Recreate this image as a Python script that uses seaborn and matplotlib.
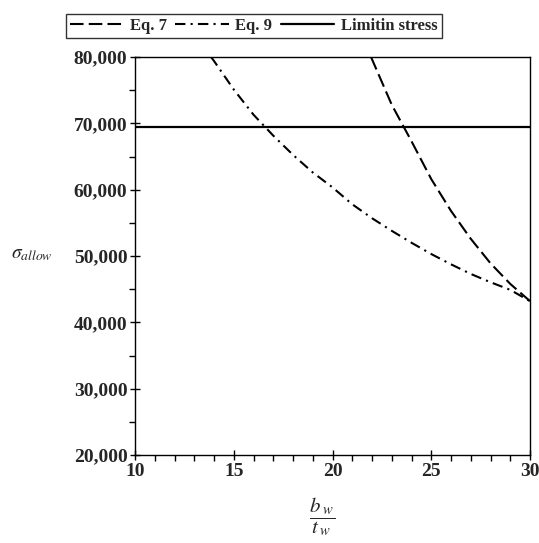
import numpy as np
import pandas as pd
import seaborn as sns
import matplotlib.pyplot as plt
from matplotlib.ticker import MultipleLocator, FuncFormatter

# valores
x_eq7 = [21.95, 23, 24, 25, 26, 27, 28, 29, 30]
s_eq7 = [80000, 72800, 67300, 61600, 56800, 52600, 48900, 45800, 43200]

x_eq9 = [13.85, 14, 15, 16, 17, 18, 19, 20, 21, 22, 23, 24, 25, 26, 27, 28, 29, 30]
s_eq9 = [80000, 79400, 75100, 71300, 68150, 65250, 62600, 60350, 57800,
         55700, 53800, 52000, 50300, 48750, 47300, 46050, 44900, 43200]

x_lim = [10, 30]
s_lim = [69400, 69400]

df7 = pd.DataFrame({"bt": x_eq7, "s": s_eq7})
df9 = pd.DataFrame({"bt": x_eq9, "s": s_eq9})
dfl = pd.DataFrame({"bt": x_lim, "s": s_lim})

sns.set_theme(style="white")
plt.rcParams['font.family'] = ['Liberation Serif', 'DejaVu Serif']
plt.rcParams['mathtext.fontset'] = 'stix'

fig = plt.figure(figsize=(5.39, 5.43), dpi=100)
ax = fig.add_axes([0.2505, 0.162, 0.7328, 0.733])

sns.lineplot(data=df7, x="bt", y="s", ax=ax, color="black", lw=1.5,
             label="Eq. 7", linestyle=(0, (6.5, 2.5)))
sns.lineplot(data=df9, x="bt", y="s", ax=ax, color="black", lw=1.5,
             label="Eq. 9", linestyle=(0, (5, 2.5, 1, 2.5)))
sns.lineplot(data=dfl, x="bt", y="s", ax=ax, color="black", lw=1.6,
             label="Limitin stress")

ax.set_xlim(10, 30)
ax.set_ylim(20000, 80000)
ax.xaxis.set_major_locator(MultipleLocator(5))
ax.xaxis.set_minor_locator(MultipleLocator(1))
ax.yaxis.set_major_locator(MultipleLocator(10000))
ax.yaxis.set_minor_locator(MultipleLocator(5000))
ax.yaxis.set_major_formatter(FuncFormatter(lambda v, p: f"{int(v):,}"))

ax.tick_params(which="major", direction="inout", length=7, width=1,
               color="black", labelsize=14, pad=2,
               bottom=True, left=True)
ax.tick_params(which="minor", direction="out", length=4, width=1,
               color="black", bottom=True, left=True)
for lab in ax.get_xticklabels() + ax.get_yticklabels():
    lab.set_fontweight("bold")

for sp in ax.spines.values():
    sp.set_color("black")
    sp.set_linewidth(1)

ax.set_xlabel(r"$\dfrac{b_{\;w}}{t_{\;w}}$", fontsize=15)
ax.xaxis.set_label_coords(0.474, -0.1)
ax.set_ylabel(r"$\sigma_{allow}$", fontsize=14, rotation=0, va="center")
ax.yaxis.set_label_coords(-0.26, 0.505)

leg = ax.legend(loc="lower left", bbox_to_anchor=(-0.175, 1.048), ncol=3,
                frameon=True, fancybox=False, edgecolor="black",
                handlelength=3.2, handletextpad=0.4, columnspacing=0.5,
                borderpad=0.25, borderaxespad=0,
                prop={"family": "Liberation Serif", "weight": "bold",
                      "size": 12})
leg.get_frame().set_linewidth(1)

plt.savefig("out.png", dpi=100)
